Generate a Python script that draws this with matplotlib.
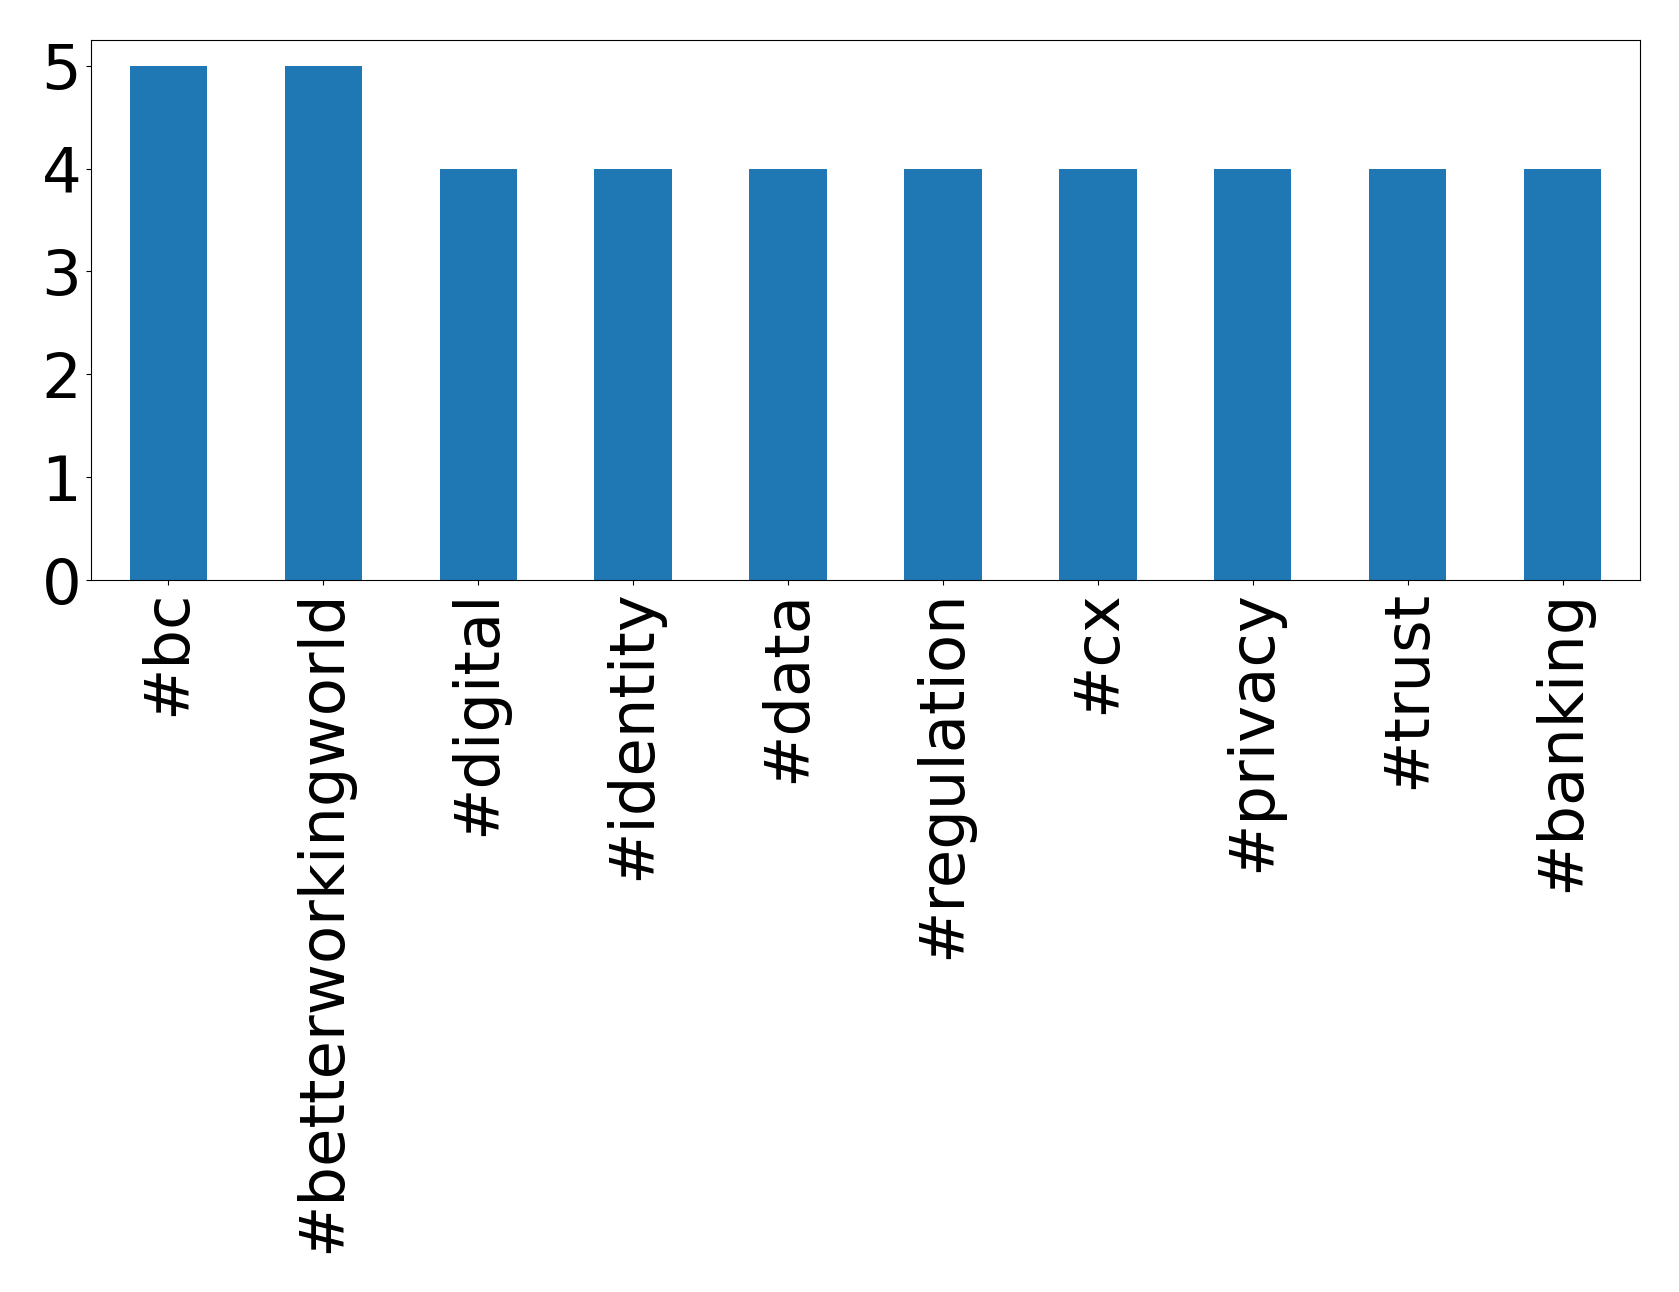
import matplotlib
matplotlib.use('Agg')
import matplotlib.pyplot as plt
import pandas as pd

# hashtag counts
hashtags = ['#bc', '#betterworkingworld', '#digital', '#identity', '#data',
            '#regulation', '#cx', '#privacy', '#trust', '#banking']
counts = [5, 5, 4, 4, 4, 4, 4, 4, 4, 4]

s = pd.Series(counts, index=hashtags)

fig = plt.figure(figsize=(16.79, 12.92), dpi=100)
ax = fig.add_subplot(111)
s.plot(kind='bar', ax=ax, color='#1f77b4', width=0.5)

ax.tick_params(axis='both', labelsize=45)
ax.set_yticks([0, 1, 2, 3, 4, 5])
plt.xticks(rotation=90)

fig.subplots_adjust(left=91/1679, right=1640/1679, top=1-40/1292, bottom=1-580/1292)
fig.savefig('out.png', dpi=100)
